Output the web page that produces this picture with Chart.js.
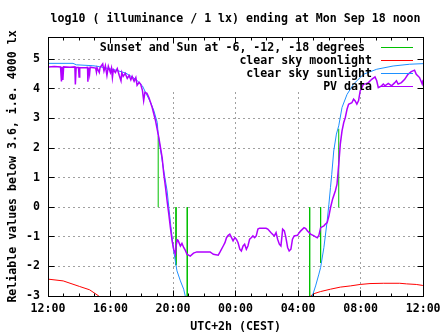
<!DOCTYPE html>
<html>
<head>
<meta charset="utf-8">
<title>log10 illuminance</title>
<script src="https://cdn.jsdelivr.net/npm/chart.js@4.4.0/dist/chart.umd.min.js"></script>
<style>
  html, body { margin: 0; padding: 0; background: #fff; }
  canvas { display: block; }
</style>
</head>
<body>
<canvas id="lightChart" width="447" height="335"></canvas>
<script>
// hours after 12:00 on the day before
const xTickHours = [0, 4, 8, 12, 16, 20, 24];
const xTickLabels = ['12:00', '16:00', '20:00', '00:00', '04:00', '08:00', '12:00'];
const yTicks = [-3, -2, -1, 0, 1, 2, 3, 4, 5];

// sunset/sunrise and sun at -6, -12 degrees: vertical marks from 0 to the model value
const sunEventHours = [7.05, 8.19, 8.91, 16.74, 17.44, 18.60];
const sunEventLevels = [2.40, -1.96, -3.3, -3.3, -1.88, 2.65];

const moonHours = [0.00, 0.97, 2.03, 2.66, 3.25, 3.50, 12.0, 16.75, 16.80, 17.02, 17.44, 18.07, 18.70,
  19.34, 19.97, 20.60, 21.45, 22.50, 22.93, 23.56, 23.94, 24.00];
const moonLevels = [-2.43, -2.49, -2.68, -2.79, -3.00, -3.10, null, -3.05, -3.00, -2.92, -2.85, -2.77, -2.70,
  -2.66, -2.61, -2.58, -2.57, -2.57, -2.59, -2.61, -2.64, -2.65];

const sunHours = [0.00, 1.60, 1.82, 2.87, 3.29, 4.35, 4.98, 5.62, 6.04, 6.25, 6.57, 6.78, 6.99, 7.05,
  7.41, 7.62, 7.73, 7.94, 8.04, 8.25, 8.47, 8.68, 8.78, 8.87, 12.0,
  16.88, 16.91, 17.12, 17.33, 17.44, 17.65, 17.86, 17.97, 18.07, 18.15, 18.28, 18.45, 18.60, 18.81,
  19.13, 19.55, 20.18, 21.03, 22.08, 23.14, 24.00];
const sunLevels = [4.86, 4.86, 4.81, 4.78, 4.75, 4.63, 4.53, 4.32, 4.10, 3.87, 3.53, 3.25, 2.86, 2.45,
  1.22, 0.55, -0.01, -1.03, -1.48, -2.15, -2.49, -2.77, -3.00, -3.20, null,
  -3.20, -3.00, -2.66, -2.26, -2.04, -1.36, -0.46, 0.10, 0.66, 1.10, 1.90, 2.47, 2.75, 3.37,
  3.81, 4.16, 4.49, 4.66, 4.77, 4.83, 4.85];

const pvHours = [0.00, 0.40, 0.80, 0.86, 0.90, 0.95, 1.00, 1.40, 1.72, 1.75, 1.80, 1.95, 1.99, 2.03,
  2.40, 2.53, 2.55, 2.60, 2.66, 2.70, 3.05, 3.10, 3.14, 3.28, 3.33, 3.50, 3.58, 3.67, 3.77, 3.86,
  3.99, 4.06, 4.12, 4.18, 4.31, 4.43, 4.56, 4.67, 4.72, 4.81, 4.94, 5.07, 5.19, 5.30, 5.38, 5.51,
  5.62, 5.70, 5.83, 5.93, 6.04, 6.12, 6.20, 6.33, 6.46, 6.67, 6.88, 7.09, 7.30, 7.41, 7.52, 7.62,
  7.73, 7.83, 7.94, 8.04, 8.15, 8.20, 8.26, 8.32, 8.47, 8.57, 8.68, 8.78, 8.89, 9.10, 9.31, 9.52,
  10.37, 10.58, 10.89, 11.00, 11.21, 11.32, 11.42, 11.53, 11.63, 11.74, 11.84, 11.95, 12.05, 12.16,
  12.27, 12.37, 12.48, 12.58, 12.69, 12.79, 12.90, 13.00, 13.11, 13.22, 13.32, 13.43, 13.53, 13.95,
  14.06, 14.27, 14.38, 14.48, 14.59, 14.69, 14.80, 14.90, 14.97, 15.01, 15.12, 15.22, 15.33, 15.43,
  15.54, 15.64, 15.75, 15.96, 16.07, 16.17, 16.38, 16.49, 16.59, 16.80, 17.02, 17.12, 17.23, 17.33,
  17.44, 17.65, 17.75, 17.86, 17.97, 18.08, 18.21, 18.38, 18.49, 18.60, 18.70, 18.81, 18.92, 19.02,
  19.13, 19.23, 19.44, 19.55, 19.65, 19.76, 19.87, 19.97, 20.08, 20.18, 20.29, 20.50, 20.71, 20.92,
  21.03, 21.13, 21.34, 21.45, 21.56, 21.77, 21.98, 22.17, 22.29, 22.40, 22.61, 22.82, 23.03, 23.24,
  23.45, 23.56, 23.77, 23.94, 24.00];
const pvLevels = [4.74, 4.75, 4.74, 4.25, 4.74, 4.30, 4.74, 4.73, 4.74, 4.15, 4.72, 4.72, 4.40, 4.72,
  4.71, 4.72, 4.24, 4.72, 4.50, 4.73, 4.70, 4.56, 4.71, 4.55, 4.72, 4.84, 4.60, 4.78, 4.45, 4.76,
  4.55, 4.70, 4.38, 4.65, 4.55, 4.68, 4.45, 4.27, 4.55, 4.42, 4.52, 4.35, 4.45, 4.30, 4.42, 4.25,
  4.38, 4.12, 4.22, 4.15, 3.95, 3.60, 3.88, 3.85, 3.70, 3.36, 2.92, 2.35, 1.68, 1.11, 0.66, 0.21,
  -0.24, -0.69, -1.14, -1.42, -1.59, -1.30, -1.10, -1.12, -1.31, -1.22, -1.36, -1.45, -1.59, -1.65, -1.55, -1.51,
  -1.51, -1.59, -1.62, -1.52, -1.31, -1.20, -1.03, -0.95, -0.91, -1.03, -1.14, -1.03, -1.08, -1.20,
  -1.42, -1.48, -1.31, -1.25, -1.42, -1.31, -1.08, -1.03, -0.97, -1.03, -0.97, -0.74, -0.71, -0.71,
  -0.74, -0.86, -0.92, -0.97, -0.86, -1.08, -1.25, -1.31, -0.97, -0.74, -0.80, -1.03, -1.36, -1.48,
  -1.42, -1.08, -0.97, -0.95, -0.86, -0.80, -0.69, -0.72, -0.80, -0.91, -0.97, -1.00, -1.03, -0.95,
  -0.69, -0.63, -0.57, -0.52, -0.30, 0.00, 0.28, 0.55, 0.78, 1.45, 2.13, 2.58, 2.86, 3.03,
  3.31, 3.48, 3.53, 3.65, 3.59, 3.48, 3.60, 3.93, 4.04, 4.16, 4.16, 4.21, 4.32, 4.40,
  4.27, 4.04, 4.10, 4.16, 4.10, 4.18, 4.10, 4.20, 4.27, 4.16, 4.21, 4.32, 4.49, 4.58,
  4.63, 4.49, 4.38, 4.16, 4.30];

const chartTitle = 'log10 ( illuminance / 1 lx) ending at Mon Sep 18 noon';
const monoFont = { family: "'DejaVu Sans Mono', monospace", size: 11.6, weight: 'bold', lineHeight: 1.2 };
const fontCss = "bold 11.6px 'DejaVu Sans Mono', monospace";

function toPoints(xs, ys) {
  return xs.map((h, i) => ({ x: h, y: ys[i] }));
}

// each event becomes a vertical segment, broken off from the next one
const sunEventPoints = [];
sunEventHours.forEach((h, i) => {
  sunEventPoints.push({ x: h, y: 0 }, { x: h, y: sunEventLevels[i] }, { x: h, y: null });
});

const snap = v => Math.round(v - 0.5) + 0.5;

// gnuplot style: opaque key top right, inward mirrored ticks, full frame
const gnuplotLook = {
  id: 'gnuplotLook',
  keyBox(chart) {
    const a = chart.chartArea;
    return { left: 100, top: a.top, right: a.right, bottom: 92 };
  },
  beforeDatasetsDraw(chart) {
    const ctx = chart.ctx;
    const k = this.keyBox(chart);
    ctx.save();
    ctx.fillStyle = '#fff';
    ctx.fillRect(k.left, k.top, k.right - k.left, k.bottom - k.top);
    ctx.restore();
  },
  afterDatasetsDraw(chart) {
    const ctx = chart.ctx;
    const sets = chart.data.datasets;
    ctx.save();
    ctx.font = fontCss;
    ctx.textAlign = 'right';
    ctx.textBaseline = 'middle';
    sets.forEach((ds, i) => {
      const yRow = 47.5 + i * 13;
      ctx.fillStyle = '#000';
      ctx.fillText(ds.label, 372, yRow);
      ctx.strokeStyle = ds.borderColor;
      ctx.lineWidth = 1;
      ctx.beginPath();
      ctx.moveTo(381, snap(yRow));
      ctx.lineTo(413, snap(yRow));
      ctx.stroke();
    });
    ctx.restore();
  },
  afterDraw(chart) {
    const ctx = chart.ctx;
    const a = chart.chartArea;
    const xs = chart.scales.x;
    const ys = chart.scales.y;
    const L = snap(a.left), R = snap(a.right), T = snap(a.top), B = snap(a.bottom);
    ctx.save();
    ctx.strokeStyle = '#000';
    ctx.lineWidth = 1;
    ctx.beginPath();
    for (let h = 0; h <= 24; h++) {
      const len = h % 4 === 0 ? 6 : 3;
      const px = snap(xs.getPixelForValue(h));
      ctx.moveTo(px, B); ctx.lineTo(px, B - len);
      ctx.moveTo(px, T); ctx.lineTo(px, T + len);
    }
    yTicks.forEach(v => {
      const py = snap(ys.getPixelForValue(v));
      ctx.moveTo(L, py); ctx.lineTo(L + 6, py);
      ctx.moveTo(R, py); ctx.lineTo(R - 6, py);
    });
    ctx.stroke();
    ctx.strokeRect(L, T, R - L, B - T);

    ctx.fillStyle = '#000';
    ctx.font = fontCss;
    ctx.textAlign = 'center';
    ctx.textBaseline = 'middle';
    ctx.fillText(chartTitle, (a.left + a.right) / 2, 18.5);
    ctx.restore();
  }
};

const ctx = document.getElementById('lightChart').getContext('2d');
const myChart = new Chart(ctx, {
  type: 'line',
  data: {
    datasets: [{
      label: 'Sunset and Sun at -6, -12, -18 degrees ',
      data: sunEventPoints,
      borderColor: '#00c000',
      borderWidth: 1,
      order: 3
    }, {
      label: 'clear sky moonlight',
      data: toPoints(moonHours, moonLevels),
      borderColor: '#ff0000',
      borderWidth: 1,
      order: 2
    }, {
      label: 'clear sky sunlight',
      data: toPoints(sunHours, sunLevels),
      borderColor: '#1e90ff',
      borderWidth: 1,
      order: 1
    }, {
      label: 'PV data',
      data: toPoints(pvHours, pvLevels),
      borderColor: '#b000ff',
      borderWidth: 1.5,
      order: 0
    }]
  },
  options: {
    responsive: false,
    animation: false,
    devicePixelRatio: 1,
    spanGaps: false,
    elements: {
      point: { radius: 0 },
      line: { tension: 0, borderJoinStyle: 'miter' }
    },
    layout: { padding: { top: 37, right: 20, left: 0, bottom: 0 } },
    plugins: {
      legend: { display: false },
      tooltip: { enabled: false },
      title: { display: false }
    },
    scales: {
      x: {
        type: 'linear',
        min: 0,
        max: 24,
        afterBuildTicks: s => { s.ticks = xTickHours.map(v => ({ value: v })); },
        afterFit: s => { s.height = 39; },
        ticks: {
          callback: (v, i) => xTickLabels[i],
          font: monoFont,
          color: '#000',
          padding: 6.4,
          maxRotation: 0,
          autoSkip: false
        },
        grid: { color: '#a0a0a0', lineWidth: 1, drawTicks: false },
        border: { display: false, dash: [2, 3] },
        title: {
          display: true,
          text: 'UTC+2h (CEST)',
          font: monoFont,
          color: '#000',
          padding: { top: 0, bottom: 1.4 }
        }
      },
      y: {
        type: 'linear',
        min: -3,
        max: 5.75,
        afterBuildTicks: s => { s.ticks = yTicks.map(v => ({ value: v })); },
        afterFit: s => { s.width = 48; },
        ticks: {
          callback: v => String(v),
          font: monoFont,
          color: '#000',
          padding: 8
        },
        grid: { color: '#a0a0a0', lineWidth: 1, drawTicks: false },
        border: { display: false, dash: [2, 3] },
        title: {
          display: true,
          text: 'Reliable values below 3.6, i.e. 4000 lx',
          font: monoFont,
          color: '#000',
          padding: { top: 6.4, bottom: 0 }
        }
      }
    }
  },
  plugins: [gnuplotLook]
});
</script>
</body>
</html>
